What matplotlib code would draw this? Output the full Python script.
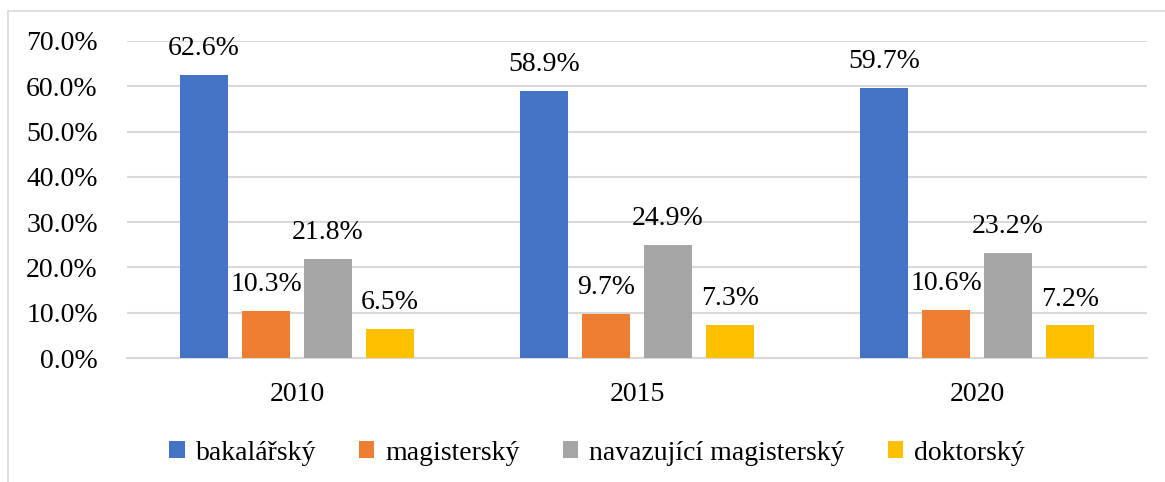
import matplotlib
matplotlib.use("Agg")
import matplotlib.pyplot as plt
from matplotlib.patches import Rectangle
from matplotlib.ticker import FuncFormatter
import numpy as np

years = ["2010", "2015", "2020"]
series = ["bakalářský", "magisterský", "navazující magisterský", "doktorský"]
bakalarsky = [62.6, 58.9, 59.7]
magistersky = [10.3, 9.7, 10.6]
navazujici = [21.8, 24.9, 23.2]
doktorsky = [6.5, 7.3, 7.2]
colors = ["#4472C4", "#ED7D31", "#A5A5A5", "#FFC000"]

plt.rcParams['font.family'] = ['Liberation Serif', 'DejaVu Serif']

fig = plt.figure(figsize=(11.65, 4.82), dpi=100)
# chart border
fig.patches.append(Rectangle((8/1165, -0.1), 1.2, (1 - 11/482) + 0.1, transform=fig.transFigure,
                             fill=False, edgecolor="#d9d9d9", linewidth=1.2))
ax = fig.add_axes([127/1165, 1 - 358/482, 1020/1165, 317/482])

x = np.arange(len(years))
step = 0.182
width = 0.141
data = [bakalarsky, magistersky, navazujici, doktorsky]
for i, (name, vals, c) in enumerate(zip(series, data, colors)):
    pos = x + (i - 1.5) * step
    ax.bar(pos, vals, width, color=c, label=name, zorder=3)
    for xp, v in zip(pos, vals):
        ax.annotate(f"{v:.1f}%", (xp, v), xytext=(0, 10), textcoords="offset points",
                    ha="center", va="bottom", fontsize=20)

ax.set_xlim(-0.5, 2.5)
ax.set_ylim(0, 70)
ax.set_yticks(np.arange(0, 71, 10))
ax.yaxis.set_major_formatter(FuncFormatter(lambda v, p: f"{v:.1f}%"))
ax.set_xticks(x)
ax.set_xticklabels(years)
ax.tick_params(axis="both", length=0, labelsize=20)
ax.tick_params(axis="y", pad=21)
ax.tick_params(axis="x", pad=17)
ax.grid(axis="y", color="#d9d9d9", linewidth=1.5, zorder=0)
for s in ["top", "right", "left"]:
    ax.spines[s].set_visible(False)
ax.spines["bottom"].set_color("#d9d9d9")
ax.spines["bottom"].set_linewidth(1.5)

leg = fig.legend(loc="center", bbox_to_anchor=(0.5125, 1 - 453/482), ncol=4, frameon=False,
                 fontsize=20, handlelength=0.55, handleheight=0.55, handletextpad=0.4,
                 columnspacing=1.55)

fig.savefig("out.png", dpi=100)
